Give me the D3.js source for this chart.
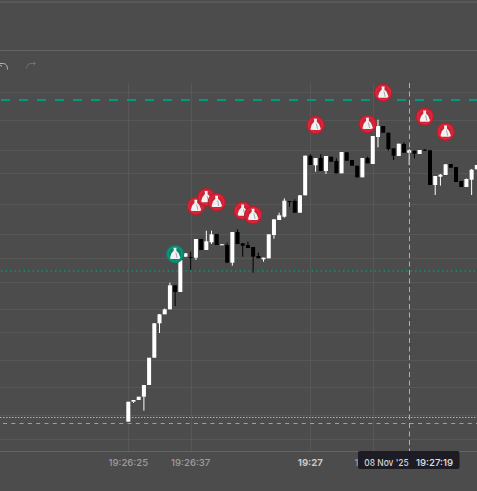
<!DOCTYPE html>
<html><head><meta charset="utf-8">
<script src="https://cdn.jsdelivr.net/npm/d3@7"></script>
<style>html,body{margin:0;padding:0;background:#4c4c4c;overflow:hidden}svg{display:block}text{font-family:Inter,sans-serif}</style>
</head><body><svg id="c" width="477" height="491"></svg>
<script>
// index = seconds after 19:26:25; prices in arbitrary points (price axis is not visible)
const opens  = [3029.3,3049.3,3051,3054.3,3066,3093.3,3127.7,3136.7,3141.7,3165.7,3159,3194.3,3194,3193.3,3212,3201,3208.7,3217,3206,3206,3188.3,3219,3207.7,3206,3204,3195,3191.7,3192.7,3216,3231,3234.3,3250,3250,3238.3,3255.7,3295.3,3285.7,3293,3280,3294.3,3290,3277.7,3298.7,3291,3285.3,3273.7,3293,3287,3314,3325,3318.3,3302.7,3295,3307,3298.3,3300.3,3297,3301.3,3300.7,3266,3274.3,3276,3287,3284,3270,3264,3271.3,3281.7];
const highs  = [3029.3,3049.3,3051,3054.3,3066,3128,3137,3142.5,3168.3,3165.7,3191,3197.7,3199.3,3212,3212,3220.3,3220.3,3217,3207,3208.3,3219,3221.7,3207.7,3209.3,3204,3198.3,3193.3,3216.7,3231.7,3238.3,3252.7,3250,3251.7,3256,3295.3,3296.7,3293,3296.7,3295,3294.3,3292.7,3299,3299,3291,3285.3,3293,3294.3,3315,3331.3,3325,3318.3,3302.7,3307.3,3308.7,3301.7,3300.3,3301,3302,3300.7,3275,3277,3287,3287,3284,3270,3272.5,3282,3286];
const lows   = [3029.3,3048,3051,3040.3,3066,3093.3,3118,3136.7,3141.7,3145,3159,3194.3,3181,3191,3201,3201,3207,3206,3206,3188.3,3185.3,3207,3194.3,3203,3178.3,3192.7,3189.3,3192.7,3212.3,3231,3233.3,3244.3,3238.3,3238.3,3255.7,3286,3279.3,3280,3277,3289.3,3277.7,3277.7,3290.3,3285.3,3273.7,3273.7,3287.7,3287,3303.7,3318.3,3300.3,3291,3295,3298.3,3286,3292.7,3297,3300.3,3266,3256,3265.3,3276,3283.3,3269,3264,3264,3256,3281.7];
const closes = [3049.3,3051,3054.3,3066,3093.3,3127.7,3136.7,3141.7,3165.7,3159,3191,3197.7,3193.7,3212,3201,3209.7,3216.7,3206,3206.7,3188.3,3219,3207,3205.3,3203,3194.3,3192.7,3193.3,3216.7,3231.7,3235.7,3250.3,3249.7,3238.3,3255.7,3295.3,3286,3293,3280,3295,3289.3,3277.7,3299,3290.3,3285.3,3273.7,3293,3287.7,3315,3325,3318.3,3302,3295.3,3307.3,3298.3,3300.7,3297.3,3301,3300.3,3266,3275,3276.3,3286.7,3283.3,3269,3264,3272,3281.3,3286];
const tickIndex  = [0, 12, 35, 47];
const tickLabels = ["19:26:25", "19:26:37", "19:27", "19:27:12"];
const tickStrong = [false, false, true, false];
const gridPrices = [3359.3,3330.7,3300.7,3277.7,3247,3217,3193,3169.3,3142,3119,3091,3064,3036,3012];
const buyIndex   = [9];
const buyPrice   = [3197];
const sellIndex  = [13,15,17,22,24,36,46,49,57,61];
const sellPrice  = [3245,3253.7,3249,3240.3,3236,3326,3327,3358.3,3334.3,3319.3];
const tealDashPrice = 3351, tealDotPrice = 3180, whiteDotPrice = 3034, crossPrice = 3028;
const crossIndex = 54;
const crossDate = "08 Nov '25", crossTime = "19:27:19";

const svg = d3.select("#c");
const x = d3.scaleLinear().domain([0, 54]).range([128.3, 409.2]);
const y = d3.scaleLinear().domain([3000, 3451]).range([451, 0]);

// frame lines
svg.selectAll(".frame").data([2, 50.5]).join("line").attr("x1",0).attr("x2",477)
  .attr("y1",d=>d).attr("y2",d=>d).attr("stroke","#66646a").attr("stroke-width",1);

// undo / redo
svg.append("path").attr("d","M0 63.5H3.5Q7.5 64 7.5 69.5M0 65L2 66.5").attr("fill","none").attr("stroke","#b4b4b4").attr("stroke-width",1);
svg.append("path").attr("d","M26.5 68.5Q27 63.5 31 63.5H35.5M33.5 61.5L35.5 63.5L33.5 65.5").attr("fill","none").attr("stroke","#707070").attr("stroke-width",1);

// grid
svg.selectAll(".gh").data(gridPrices).join("line").attr("x1",0).attr("x2",477)
  .attr("y1",d=>Math.round(y(d))+.5).attr("y2",d=>Math.round(y(d))+.5).attr("stroke","#575757");
svg.selectAll(".gv").data(tickIndex).join("line").attr("y1",83).attr("y2",451)
  .attr("x1",d=>Math.round(x(d))+.5).attr("x2",d=>Math.round(x(d))+.5).attr("stroke","#575757");
svg.append("line").attr("x1",0).attr("x2",477).attr("y1",451.5).attr("y2",451.5).attr("stroke","#646464");

// price lines
function hline(p,color,dash,w,off,snap,op){const yy=Math.round(y(p))+snap;
  svg.append("line").attr("x1",0).attr("x2",477).attr("y1",yy).attr("y2",yy).attr("opacity",op||1)
  .attr("stroke",color).attr("stroke-width",w).attr("stroke-dasharray",dash).attr("stroke-dashoffset",off);}
hline(tealDashPrice,"#00997f","9 9",2,17,0);
hline(tealDotPrice,"#00997f","1.6 2.9",1.6,3.5,0,.85);
hline(whiteDotPrice,"#b0b0b0","1.5 1.5",1,0,.5);

// candles
const idx = d3.range(opens.length);
const color = i => closes[i] >= opens[i] ? "#ffffff" : "#000000";
svg.selectAll(".wick").data(idx).join("line")
  .attr("x1",i=>x(i)).attr("x2",i=>x(i)).attr("y1",i=>y(highs[i])).attr("y2",i=>y(lows[i]))
  .attr("stroke",color).attr("stroke-width",1);
svg.selectAll(".body").data(idx).join("rect")
  .attr("x",i=>x(i)-2).attr("width",4)
  .attr("y",i=>y(Math.max(opens[i],closes[i])))
  .attr("height",i=>Math.max(1,Math.abs(y(opens[i])-y(closes[i]))))
  .attr("fill",color);

// crosshair
hline(crossPrice,"#a0a0a0","4 4.3",1,5.3,.5);
svg.append("line").attr("x1",Math.round(x(crossIndex))+.5).attr("x2",Math.round(x(crossIndex))+.5).attr("y1",83).attr("y2",451)
  .attr("stroke","#b0b0b0").attr("stroke-dasharray","5 3.5");

// markers
function marker(i,p,ring,edge,inner){
  const g = svg.append("g").attr("transform",`translate(${x(i)},${y(p)})`);
  g.append("circle").attr("r",8.6).attr("fill",ring).attr("stroke",edge).attr("stroke-width",1.2);
  g.append("circle").attr("r",6.3).attr("fill",inner);
  g.append("path").attr("d","M-1.6 -6.2L1.4 -6.2L1.2 -3.2L3.4 -1L5.2 3.6Q5.2 5 3.6 5L-3.8 5Q-5.2 5 -5 3.4L-3.8 -0.4L-1.4 -3.2Z").attr("fill","#f2f2f2");
  g.append("path").attr("d","M0.8 -1.5L2 4").attr("stroke","#a8a8a8").attr("stroke-width",1).attr("fill","none");
}
buyIndex.forEach((d,k)=>marker(d,buyPrice[k],"#0a977d","#0c7d69","#0c7f6b"));
sellIndex.forEach((d,k)=>marker(d,sellPrice[k],"#e2233a","#b51f2e","#c92537"));

// time labels
svg.selectAll(".tl").data(tickIndex).join("text").attr("x",d=>x(d)).attr("y",465.5).attr("text-anchor","middle")
  .attr("font-size",9.6).attr("font-weight",(d,k)=>tickStrong[k]?700:500)
  .attr("fill",(d,k)=>tickStrong[k]?"#c8c8c8":"#9c9c9c").text((d,k)=>tickLabels[k]);

// crosshair label
svg.append("rect").attr("x",358).attr("y",451).attr("width",101.5).attr("height",18).attr("rx",2).attr("fill","#1d1c24");
svg.append("text").attr("x",364.3).attr("y",465.5).attr("font-size",9.6).attr("font-weight",500).attr("textLength",44.4).attr("lengthAdjust","spacingAndGlyphs").attr("fill","#d6d6d6").text(crossDate);
svg.append("text").attr("x",453).attr("y",465.5).attr("text-anchor","end").attr("font-size",9.6).attr("font-weight",500).attr("fill","#e0e0e0").text(crossTime);
</script></body></html>
